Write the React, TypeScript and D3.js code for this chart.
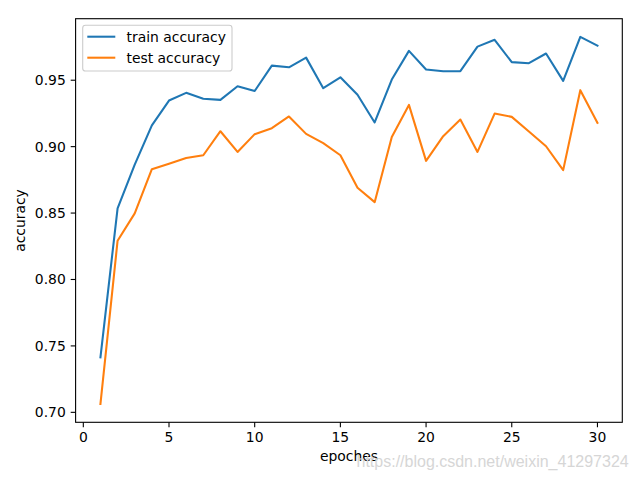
import React, { useRef, useEffect } from 'react';
import * as d3 from 'd3';

const epochs = [1, 2, 3, 4, 5, 6, 7, 8, 9, 10, 11, 12, 13, 14, 15, 16, 17, 18, 19, 20, 21, 22, 23, 24, 25, 26, 27, 28, 29, 30];
const trainAccuracy = [
  0.7414, 0.8536, 0.8865, 0.9160, 0.9347, 0.9405, 0.9360, 0.9352, 0.9455, 0.9419,
  0.9610, 0.9597, 0.9670, 0.9440, 0.9522, 0.9390, 0.9182, 0.9505, 0.9721, 0.9581,
  0.9568, 0.9568, 0.9753, 0.9804, 0.9636, 0.9628, 0.9701, 0.9495, 0.9826, 0.9760,
];
const testAccuracy = [
  0.7063, 0.8292, 0.8498, 0.8830, 0.8872, 0.8915, 0.8935, 0.9116, 0.8960, 0.9094,
  0.9139, 0.9227, 0.9096, 0.9026, 0.8935, 0.8690, 0.8582, 0.9073, 0.9314, 0.8893,
  0.9079, 0.9204, 0.8960, 0.9249, 0.9224, 0.9114, 0.9003, 0.8823, 0.9425, 0.9179,
];
const xTicks = [0, 5, 10, 15, 20, 25, 30];
const yTicks = [0.70, 0.75, 0.80, 0.85, 0.90, 0.95];
const seriesNames = ['train accuracy', 'test accuracy'];
const colors = ['#1f77b4', '#ff7f0e'];

const AccuracyChart: React.FC = () => {
  const chartRef = useRef<HTMLDivElement>(null);

  useEffect(() => {
    d3.select(chartRef.current).select('svg').remove();

    const width = 640;
    const height = 480;
    const left = 75.6, right = 622.3, top = 18.7, bottom = 422.3;
    const font = '"DejaVu Sans", sans-serif';

    const svg = d3.select(chartRef.current)
      .append('svg')
      .attr('width', width)
      .attr('height', height)
      .style('position', 'absolute')
      .style('left', '0px')
      .style('top', '0px')
      .style('background', 'white');

    const x = d3.scaleLinear().domain([-0.45, 31.45]).range([left, right]);
    const y = d3.scaleLinear().domain([0.6925, 0.9963]).range([bottom, top]);

    // lines
    const line = d3.line<number>()
      .x((d, i) => x(epochs[i]))
      .y(d => y(d));

    [trainAccuracy, testAccuracy].forEach((series, k) => {
      svg.append('path')
        .datum(series)
        .attr('d', line)
        .attr('fill', 'none')
        .attr('stroke', colors[k])
        .attr('stroke-width', 2.08)
        .attr('stroke-linejoin', 'round')
        .attr('stroke-linecap', 'square');
    });

    // frame
    svg.append('rect')
      .attr('x', left)
      .attr('y', top)
      .attr('width', right - left)
      .attr('height', bottom - top)
      .attr('fill', 'none')
      .attr('stroke', 'black')
      .attr('stroke-width', 1.1);

    // x axis
    const xAxis = svg.append('g');
    xTicks.forEach(t => {
      xAxis.append('line')
        .attr('x1', x(t)).attr('x2', x(t))
        .attr('y1', bottom).attr('y2', bottom + 4.9)
        .attr('stroke', 'black').attr('stroke-width', 1.1);
      xAxis.append('text')
        .attr('x', x(t))
        .attr('y', bottom + 19.4)
        .attr('text-anchor', 'middle')
        .style('font-family', font)
        .style('font-size', '13.9px')
        .text(String(t));
    });

    // y axis
    const yAxis = svg.append('g');
    yTicks.forEach(t => {
      yAxis.append('line')
        .attr('x1', left - 4.9).attr('x2', left)
        .attr('y1', y(t)).attr('y2', y(t))
        .attr('stroke', 'black').attr('stroke-width', 1.1);
      yAxis.append('text')
        .attr('x', left - 9.8)
        .attr('y', y(t))
        .attr('dy', '0.36em')
        .attr('text-anchor', 'end')
        .style('font-family', font)
        .style('font-size', '13.9px')
        .text(t.toFixed(2));
    });

    svg.append('text')
      .attr('x', (left + right) / 2)
      .attr('y', 461)
      .attr('text-anchor', 'middle')
      .style('font-family', font)
      .style('font-size', '13.9px')
      .text('epoches');

    svg.append('text')
      .attr('transform', `translate(25,${(top + bottom) / 2}) rotate(-90)`)
      .attr('text-anchor', 'middle')
      .style('font-family', font)
      .style('font-size', '13.9px')
      .text('accuracy');

    // legend
    const legend = svg.append('g');
    legend.append('rect')
      .attr('x', 82.7)
      .attr('y', 25.3)
      .attr('width', 149.3)
      .attr('height', 45.7)
      .attr('rx', 2.8)
      .attr('fill', 'white')
      .attr('fill-opacity', 0.8)
      .attr('stroke', '#cccccc')
      .attr('stroke-width', 1.1);
    seriesNames.forEach((name, k) => {
      const ly = 36.7 + k * 21;
      legend.append('line')
        .attr('x1', 87.3).attr('x2', 115.3)
        .attr('y1', ly).attr('y2', ly)
        .attr('stroke', colors[k])
        .attr('stroke-width', 2.08);
      legend.append('text')
        .attr('x', 126.5)
        .attr('y', ly)
        .attr('dy', '0.36em')
        .style('font-family', font)
        .style('font-size', '13.9px')
        .text(name);
    });

    // watermark
    svg.append('text')
      .attr('x', 356.5)
      .attr('y', 467)
      .style('font-family', '"Liberation Sans", Arial, sans-serif')
      .style('font-size', '16px')
      .attr('fill', '#d6d6d6')
      .text('https://blog.csdn.net/weixin_41297324');
  }, []);

  return <div ref={chartRef} />;
};

export default function App() {
  return <AccuracyChart />;
}
